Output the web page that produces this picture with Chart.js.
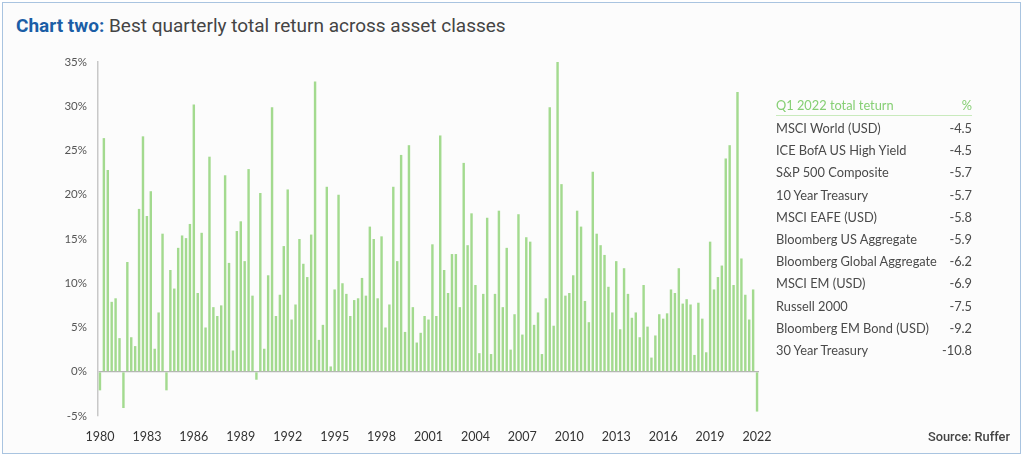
<!DOCTYPE html>
<html><head><meta charset="utf-8">
<script src="https://cdn.jsdelivr.net/npm/chart.js@4.4.0/dist/chart.umd.min.js"></script>
<style>
html,body{margin:0;padding:0;background:#fff;width:1024px;height:457px;overflow:hidden;}
#frame{position:absolute;left:2px;top:2px;width:1019px;height:452px;border:1px solid #a9c4e0;background:#fcfcfc;box-sizing:border-box;}
#title{position:absolute;left:16px;top:14px;font-family:Roboto,"Noto Sans",sans-serif;font-size:19px;color:#444;white-space:nowrap;}
#title b{color:#1b5ea6;font-weight:700;}
#wrap{position:absolute;left:0;top:0;width:1024px;height:457px;}
#tbl{position:absolute;left:776px;top:95px;width:196px;font-family:Lato,"Open Sans",sans-serif;font-size:12.8px;color:#4a4a4a;}
.row{position:relative;height:22.2px;line-height:22.2px;white-space:nowrap;}
.row .v{position:absolute;right:0;top:0;}
.hdr{color:#86cf74;border-bottom:1px solid #c9eabd;height:20px;line-height:20px;margin-bottom:1px;}
#src{position:absolute;right:14px;top:429px;font-family:Roboto,"Noto Sans",sans-serif;font-size:12.8px;color:#444;font-weight:500;}
</style></head>
<body>
<div id="frame"></div>
<div id="title"><b>Chart two:</b> Best quarterly total return across asset classes</div>
<div id="wrap"><canvas id="c" width="1024" height="457"></canvas></div>
<div id="tbl"></div>
<div id="src">Source: Ruffer</div>
<script>
// Best quarterly total return across asset classes (%), Q1 1980 .. Q1 2022
const returns1980s = [-2.1,26.4,22.8,7.9, 8.3,3.8,-4.1,12.4, 3.9,2.9,18.4,26.6, 17.6,20.4,2.6,6.7, 15.6,-2.1,11.5,9.4,
  14.0,15.4,15.1,16.7, 30.2,8.9,15.7,5.0, 24.3,7.3,6.3,7.5, 22.2,12.3,2.4,15.9, 17.0,12.5,22.9,8.6];
const returns1990s = [-0.9,20.2,2.6,10.9, 29.9,6.3,8.7,14.2, 20.6,5.9,7.6,15.0, 12.2,10.7,15.5,32.8, 3.6,5.3,20.9,0.6,
  9.3,20.0,10.0,8.8, 6.3,8.1,8.3,10.6, 8.6,16.4,15.0,8.3, 15.3,5.0,7.6,20.9, 12.5,24.5,4.5,25.6];
const returns2000s = [7.3,3.3,4.4,6.3, 5.9,14.4,6.3,26.7, 11.5,8.9,13.3,13.3, 7.3,23.6,14.3,17.9, 9.8,2.1,8.8,17.4,
  2.0,8.8,18.2,7.3, 14.0,2.5,6.5,17.8, 4.2,15.2,14.7,5.3, 6.7,2.0,8.3,29.9, 5.2,35.0,21.2,8.6];
const returns2010s = [8.9,10.9,18.2,16.4, 8.0,5.6,22.6,15.6, 14.3,13.2,9.6,6.7, 12.5,4.8,11.7,8.8, 6.1,6.7,3.9,9.8,
  5.1,1.6,4.1,6.5, 6.0,6.6,9.3,8.9, 11.7,7.7,8.2,7.6, 1.9,7.8,6.0,2.2, 14.7,9.3,10.7,12.0];
const returns2020s = [24.1,25.6,9.8,31.6, 12.8,8.7,5.9,9.3, -4.5];
const bestReturn = [].concat(returns1980s, returns1990s, returns2000s, returns2010s, returns2020s);

const startYear = 1980;
const quarters = bestReturn.map((_, i) => (startYear + Math.floor(i / 4)) + ' Q' + (i % 4 + 1));
const yearTicks = ['1980','1983','1986','1989','1992','1995','1998','2001','2004','2007','2010','2013','2016','2019','2022'];

const tableNames = ['MSCI World (USD)','ICE BofA US High Yield','S&P 500 Composite','10 Year Treasury','MSCI EAFE (USD)',
  'Bloomberg US Aggregate','Bloomberg Global Aggregate','MSCI EM (USD)','Russell 2000','Bloomberg EM Bond (USD)','30 Year Treasury'];
const tableValues = ['-4.5','-4.5','-5.7','-5.7','-5.8','-5.9','-6.2','-6.9','-7.5','-9.2','-10.8'];

const tbl = document.getElementById('tbl');
let html = '<div class="row hdr">Q1 2022 total teturn<span class="v">%</span></div>';
tableNames.forEach((n, i) => { html += '<div class="row">' + n + '<span class="v">' + tableValues[i] + '</span></div>'; });
tbl.innerHTML = html;

new Chart(document.getElementById('c'), {
  type: 'bar',
  data: { labels: quarters, datasets: [{ data: bestReturn, backgroundColor: '#a3da8f', borderWidth: 0,
    barPercentage: 0.62, categoryPercentage: 1.0 }] },
  options: {
    responsive: false, animation: false, devicePixelRatio: 1,
    layout: { padding: { left: 30, right: 265, top: 62, bottom: 11 } },
    plugins: { legend: { display: false }, tooltip: { enabled: false } },
    scales: {
      x: {
        grid: { display: false, drawTicks: false }, border: { display: false },
        afterFit: s => { s.height = 30; },
        ticks: { autoSkip: false, maxRotation: 0, minRotation: 0, padding: 13, color: '#333',
          font: { family: 'Lato, "Open Sans", sans-serif', size: 12.5 },
          callback: function(v, i) { return i % 12 === 0 ? yearTicks[i / 12] : ''; } }
      },
      y: {
        min: -5, max: 35,
        afterFit: s => { s.width = 68; },
        border: { display: true, color: '#c8c8c8', width: 1.5 },
        grid: { drawTicks: false, color: c => c.tick.value === 0 ? '#b5b5b5' : 'rgba(0,0,0,0)', lineWidth: 1.2 },
        ticks: { stepSize: 5, padding: 11, color: '#555', font: { family: 'Lato, "Open Sans", sans-serif', size: 11.5 },
          callback: v => v + '%' }
      }
    }
  }
});
</script>
</body></html>
